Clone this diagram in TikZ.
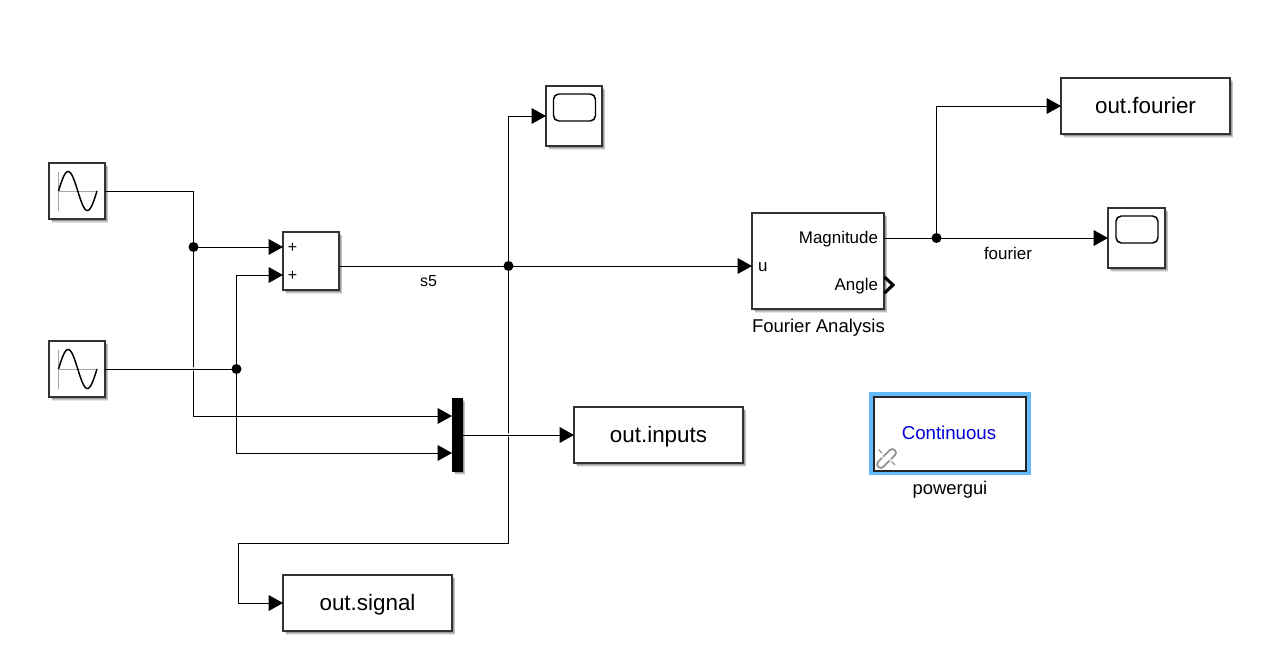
\documentclass[tikz,border=0pt]{standalone}
\usepackage{fontspec}
\setmainfont{Liberation Sans}
\usetikzlibrary{arrows.meta,shadows,calc}
\newcommand{\pxfont}[1]{\fontsize{#1}{#1}\selectfont}
\definecolor{selblue}{RGB}{100,186,250}
\tikzset{
  softshadow/.style={
    drop shadow={shadow xshift=2.6pt,shadow yshift=-2.8pt,fill=black,opacity=.10},
    drop shadow={shadow xshift=2.0pt,shadow yshift=-2.2pt,fill=black,opacity=.14},
    drop shadow={shadow xshift=1.4pt,shadow yshift=-1.6pt,fill=black,opacity=.20}},
  blk/.style={draw=black!80,line width=1.2pt,fill=white,outer sep=0pt,inner sep=0pt,softshadow},
  sized/.style 2 args={minimum width=#1*0.75pt,minimum height=#2*0.75pt},
  outblk/.style={blk,font=\pxfont{16.8},text height=11.2pt,text depth=0pt},
  wire/.style={draw=black,line width=.75pt},
  arr/.style={wire,-{Triangle[length=10.8pt,width=11.8pt]}},
  dot/.style={circle,fill=black,inner sep=0pt,minimum size=7.5pt,outer sep=0pt},
  lbl/.style={inner sep=0pt,outer sep=0pt,text=black,font=\pxfont{12.7}},
  sinecurve/.style={draw=black,line width=1.1pt},
  sineaxis/.style={draw=black!35,line width=.75pt},
  halo/.style={draw=white,line width=3pt,opacity=.75},
  linkicon/.style={draw=black!42,line width=1.4pt,line cap=round,rounded corners=2.6pt},
}
\begin{document}
\begin{tikzpicture}[x=0.75pt,y=-0.75pt]
\useasboundingbox[fill=white] (0,0) rectangle (1275,657);

% blocks
\node[blk,sized={56}{56}] (sineA) at (77,191) {};
\node[blk,sized={56}{56}] (sineB) at (77,369) {};
\node[blk,sized={56}{58}] (sum) at (311,261) {};
\node[blk,sized={56}{60}] (scopeA) at (574,116) {};
\node[blk,sized={57}{60}] (scopeB) at (1136.5,238) {};
\node[blk,sized={132}{96}] (fourier) at (818,261) {};
\node[outblk,sized={169}{56}] (outfourier) at (1145.5,106) {out.fourier};
\node[outblk,sized={169}{56}] (outinputs) at (658.5,435) {out.inputs};
\node[outblk,sized={169}{56}] (outsignal) at (367.5,603) {out.signal};
\node[draw=black,fill=black,line width=0pt,outer sep=0pt,inner sep=0pt,sized={10}{73},softshadow] (mux) at (457,434.5) {};

% powergui
\draw[draw=selblue,line width=3.75pt] (871.5,394.5) rectangle (1028.5,472);
\node[draw=black!85,line width=1.2pt,fill=white,outer sep=0pt,inner sep=0pt,sized={152}{74}] (pgui) at (950,433.8) {};
\node[lbl,text=blue!85!black,font=\pxfont{14}] (cont) at (949,433) {Continuous};
\node[lbl,font=\pxfont{13.8},anchor=base] (pguiname) at (950,494) {powergui};
% broken link icon
\begin{scope}[shift={(881,464)},rotate=45]
  \draw[linkicon] (5,-3.6) -- (-4,-3.6) -- (-4,3.6) -- (8,3.6);
\end{scope}
\begin{scope}[shift={(892,453)},rotate=45]
  \draw[linkicon] (-8,-3.6) -- (4,-3.6) -- (4,3.6) -- (-5,3.6);
\end{scope}
\draw[draw=black!42,line width=1pt] (878.5,449.5) -- (882,453);
\draw[draw=black!42,line width=1pt] (891.5,461.5) -- (895,465);

% sine icons
\foreach \n/\cy in {A/191,B/369}{
  \draw[sineaxis] (58.5,\cy-19.5) -- (58.5,\cy+19.5);
  \draw[sineaxis] (58.5,\cy) -- (97,\cy);
  \draw[sinecurve,smooth,samples=50,domain=0:360] plot ({58.5+\x*38.5/360},{\cy-19.5*sin(\x)});
}
% scope icons
\draw[draw=black,line width=1.1pt,rounded corners=4pt] (553.5,94) rectangle (595.5,121);
\draw[draw=black,line width=1.1pt,rounded corners=4pt] (1116,216) rectangle (1158,243);

% port and block labels
\node[lbl,font=\pxfont{12}] (plusA) at (292.5,248) {+};
\node[lbl,font=\pxfont{12}] (plusB) at (292.5,276) {+};
\node[lbl,anchor=west] (portu) at (758,267) {u};
\node[lbl,anchor=east] (portmag) at (878,239) {Magnitude};
\node[lbl,anchor=east] (portang) at (878,286) {Angle};
\draw[draw=black,line width=2.3pt,miter limit=10] (884.5,277) -- (893,285) -- (884.5,293);
\node[lbl,font=\pxfont{13.9},anchor=base west] (fname) at (752,332) {Fourier Analysis};
\node[lbl,font=\pxfont{12}] (s5) at (428.5,281) {s5};
\node[lbl,font=\pxfont{12.7}] (flabel) at (1008,253) {fourier};

% junctions
\coordinate (jA) at (193.5,247);
\coordinate (jB) at (236.5,369);
\coordinate (jC) at (508.5,266);
\coordinate (jD) at (936.5,238);
\coordinate (bend) at (238.5,543);

% connectors
\draw[wire] (sineA.east) -| (jA);
\draw[arr] (jA) -- ([yshift=10.5pt]sum.west);
\draw[arr] (jA) |- ([yshift=13.875pt]mux.west);
\draw[halo] (192,369) -- (195,369);
\draw[wire] (sineB.east) -- (jB);
\draw[arr] (jB) |- ([yshift=-10.5pt]sum.west);
\draw[arr] (jB) |- ([yshift=-13.875pt]mux.west);
\draw[wire] (sum.east |- jC) -- (jC);
\draw[arr] (jC) -- (fourier.west |- jC);
\draw[arr] (jC) |- (scopeA.west);
\draw[wire] (jC) |- (bend);
\draw[arr] (bend) |- (outsignal.west);
\draw[halo] (507,435) -- (510,435);
\draw[arr] (mux.east |- outinputs.west) -- (outinputs.west);
\draw[wire] (fourier.east |- jD) -- (jD);
\draw[arr] (jD) -- (scopeB.west);
\draw[arr] (jD) |- (outfourier.west);

\foreach \j in {jA,jB,jC,jD} \node[dot] at (\j) {};
\end{tikzpicture}
\end{document}
